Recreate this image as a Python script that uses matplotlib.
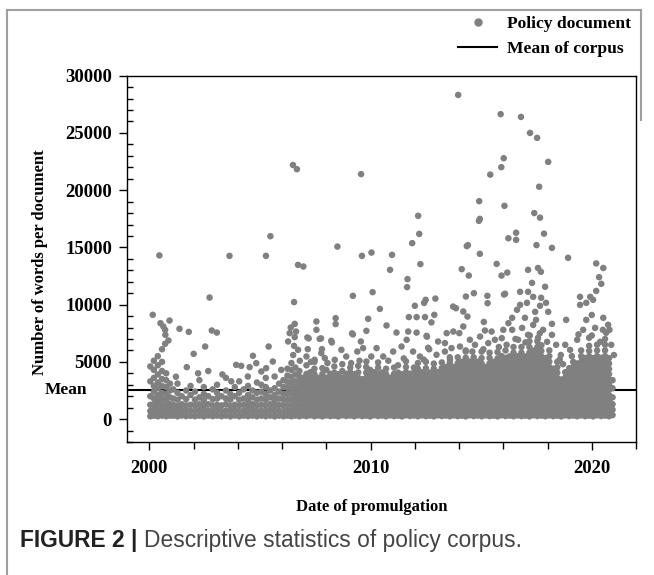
import matplotlib
matplotlib.use("Agg")
import matplotlib.pyplot as plt
from matplotlib.lines import Line2D
from matplotlib.ticker import MultipleLocator, FixedLocator
import matplotlib.transforms as mtransforms

plt.rcParams["font.family"] = "Liberation Serif"
plt.rcParams["font.weight"] = "bold"

MEAN_WORDS = 2500
DOT_COLOR = "#808080"

# ---- data ----
# dense bottom band, one entry per column of dots: (date, [words, ...])
band_2000_2006 = [
    (2000.04, [250, 700, 1250, 2000, 3300, 4600]),
    (2000.2, [300, 800, 1300, 1800, 2400, 2900, 3600, 4300, 5100]),
    (2000.38, [250, 650, 1100, 1600, 2100, 2700, 3200, 3900, 4700, 5500]),
    (2000.57, [300, 800, 1300, 1800, 2300, 2900, 3500, 4200, 5000, 6100]),
    (2000.76, [250, 700, 1200, 1700, 2200, 2800, 3400, 4000]),
    (2000.93, [300, 800, 1300, 1900, 2500, 3100]),
    (2001.08, [300, 760, 1250, 1800, 2600]),
    (2001.27, [240, 690, 1150, 1700, 2300, 3100]),
    (2001.46, [310, 800, 1300, 2000]),
    (2001.66, [260, 710, 1200, 1750, 2500]),
    (2001.86, [290, 750, 1250, 2100, 2900]),
    (2002.06, [250, 700, 1200, 1700, 2400]),
    (2002.26, [300, 800, 1300, 1900, 3400]),
    (2002.46, [240, 700, 1150, 1650, 2200, 2800]),
    (2002.66, [310, 760, 1300, 2000, 4200]),
    (2002.86, [260, 700, 1200, 1750, 2600]),
    (2003.06, [300, 800, 1250, 1800, 2300, 3000]),
    (2003.26, [250, 700, 1200, 2000]),
    (2003.46, [300, 750, 1300, 1800, 2500, 3600]),
    (2003.66, [240, 700, 1150, 1700, 2200]),
    (2003.86, [310, 800, 1250, 2000, 2800]),
    (2004.06, [250, 700, 1200, 1700, 2300, 3300]),
    (2004.26, [300, 750, 1250, 1800, 2600]),
    (2004.46, [260, 700, 1150, 1650, 2100, 2900]),
    (2004.66, [300, 800, 1300, 1900, 2500]),
    (2004.86, [250, 700, 1200, 1700, 2300, 3200]),
    (2005.06, [300, 750, 1250, 1800, 2400, 3000]),
    (2005.26, [250, 700, 1200, 1700, 2200, 2800, 3600]),
    (2005.46, [300, 800, 1300, 1900, 2500]),
    (2005.66, [240, 700, 1150, 1650, 2100, 2700]),
    (2005.86, [300, 750, 1250, 1800, 2400, 3100]),
    (2006.06, [250, 700, 1200, 1700, 2200, 2800, 3400]),
    (2006.24, [300, 750, 1250, 1750, 2250, 2750, 3250, 3800, 4400]),
    (2006.42, [250, 700, 1200, 1700, 2200, 2700, 3200, 3700, 4300, 4900]),
    (2006.6, [300, 800, 1300, 1800, 2300, 2800, 3300, 3900, 4500]),
    (2006.78, [250, 700, 1200, 1700, 2200, 2700, 3200, 3700, 4200]),
    (2006.94, [320, 780, 1250, 1720, 2180, 2650, 3100, 3600]),
]

band_2007_2013 = [
    (2007.1, [260, 720, 1180, 1640, 2100, 2560, 3020, 3480, 3950, 4700]),
    (2007.28, [330, 800, 1270, 1740, 2210, 2680, 3150, 3620, 4100]),
    (2007.46, [250, 710, 1170, 1630, 2090, 2550, 3010, 3470, 3940, 4400, 5000]),
    (2007.64, [310, 780, 1250, 1720, 2190, 2660, 3130, 3600]),
    (2007.82, [240, 700, 1160, 1620, 2080, 2540, 3000, 3460, 3930, 4450]),
    (2008.0, [320, 790, 1260, 1730, 2200, 2670, 3140, 3610, 4300]),
    (2008.18, [260, 720, 1180, 1640, 2100, 2560, 3020, 3480, 3950]),
    (2008.36, [300, 770, 1240, 1710, 2180, 2650, 3120, 3590, 4060, 4600]),
    (2008.54, [240, 700, 1160, 1620, 2080, 2540, 3000, 3460, 3920]),
    (2008.72, [330, 800, 1270, 1740, 2210, 2680, 3150, 3620, 4200, 4800]),
    (2008.9, [270, 730, 1190, 1650, 2110, 2570, 3030, 3490, 3960]),
    (2009.08, [310, 780, 1250, 1720, 2190, 2660, 3130, 3600, 4070, 4500]),
    (2009.26, [250, 710, 1170, 1630, 2090, 2550, 3010, 3470, 3930]),
    (2009.44, [320, 790, 1260, 1730, 2200, 2670, 3140, 3610, 4080, 4650]),
    (2009.62, [260, 720, 1180, 1640, 2100, 2560, 3020, 3480]),
    (2009.8, [300, 770, 1240, 1710, 2180, 2650, 3120, 3590, 4060, 4550]),
    (2009.98, [240, 700, 1160, 1620, 2080, 2540, 3000, 3460, 3920, 4300]),
    (2010.16, [330, 800, 1270, 1740, 2210, 2680, 3150, 3620, 4100]),
    (2010.34, [270, 730, 1190, 1650, 2110, 2570, 3030, 3490, 3960, 4500, 4950]),
    (2010.52, [310, 780, 1250, 1720, 2190, 2660, 3130, 3600, 4070]),
    (2010.7, [250, 710, 1170, 1630, 2090, 2550, 3010, 3470, 3930, 4400]),
    (2010.88, [320, 790, 1260, 1730, 2200, 2670, 3140, 3610]),
    (2011.06, [260, 720, 1180, 1640, 2100, 2560, 3020, 3480, 3950, 4500]),
    (2011.24, [300, 770, 1240, 1710, 2180, 2650, 3120, 3590, 4060, 4700]),
    (2011.42, [240, 700, 1160, 1620, 2080, 2540, 3000, 3460, 3920]),
    (2011.6, [330, 800, 1270, 1740, 2210, 2680, 3150, 3620, 4100, 4550, 5050]),
    (2011.78, [270, 730, 1190, 1650, 2110, 2570, 3030, 3490, 3960]),
    (2011.96, [310, 780, 1250, 1720, 2190, 2660, 3130, 3600, 4070, 4500]),
    (2012.14, [250, 710, 1170, 1630, 2090, 2550, 3010, 3470, 3930, 4400, 4900]),
    (2012.32, [320, 790, 1260, 1730, 2200, 2670, 3140, 3610, 4080]),
    (2012.5, [260, 720, 1180, 1640, 2100, 2560, 3020, 3480, 3950, 4450, 5000]),
    (2012.68, [300, 770, 1240, 1710, 2180, 2650, 3120, 3590, 4060]),
    (2012.86, [240, 700, 1160, 1620, 2080, 2540, 3000, 3460, 3920, 4400, 4850]),
    (2013.04, [330, 800, 1270, 1740, 2210, 2680, 3150, 3620, 4100]),
    (2013.22, [270, 730, 1190, 1650, 2110, 2570, 3030, 3490, 3960, 4450, 4950]),
    (2013.4, [310, 780, 1250, 1720, 2190, 2660, 3130, 3600, 4070, 4550]),
    (2013.58, [250, 710, 1170, 1630, 2090, 2550, 3010, 3470, 3930, 4400, 4900, 5400]),
    (2013.76, [320, 790, 1260, 1730, 2200, 2670, 3140, 3610, 4080, 4550]),
    (2013.94, [260, 720, 1180, 1640, 2100, 2560, 3020, 3480, 3950, 4420, 4900, 5400]),
]

band_2014_2021 = [
    (2014.12, [300, 770, 1240, 1710, 2180, 2650, 3120, 3590, 4060, 4530, 5000]),
    (2014.3, [240, 700, 1160, 1620, 2080, 2540, 3000, 3460, 3920, 4380, 4850, 5350, 5900]),
    (2014.48, [330, 800, 1270, 1740, 2210, 2680, 3150, 3620, 4090, 4560, 5030]),
    (2014.66, [270, 730, 1190, 1650, 2110, 2570, 3030, 3490, 3950, 4410, 4880, 5400]),
    (2014.84, [310, 780, 1250, 1720, 2190, 2660, 3130, 3600, 4070, 4540, 5010]),
    (2015.02, [250, 710, 1170, 1630, 2090, 2550, 3010, 3470, 3930, 4390, 4860, 5330, 5900]),
    (2015.2, [320, 790, 1260, 1730, 2200, 2670, 3140, 3610, 4080, 4550]),
    (2015.38, [260, 720, 1180, 1640, 2100, 2560, 3020, 3480, 3940, 4400, 4870, 5350, 5800]),
    (2015.56, [300, 770, 1240, 1710, 2180, 2650, 3120, 3590, 4060, 4530, 5000]),
    (2015.74, [240, 700, 1160, 1620, 2080, 2540, 3000, 3460, 3920, 4380, 4850, 5300, 5850]),
    (2015.92, [330, 800, 1270, 1740, 2210, 2680, 3150, 3620, 4090, 4560, 5030, 5500]),
    (2016.1, [270, 730, 1190, 1650, 2110, 2570, 3030, 3490, 3950, 4410, 4880, 5350, 6000]),
    (2016.28, [310, 780, 1250, 1720, 2190, 2660, 3130, 3600, 4070, 4540, 5010, 5480]),
    (2016.46, [250, 710, 1170, 1630, 2090, 2550, 3010, 3470, 3930, 4390, 4860, 5330, 5800, 6300]),
    (2016.64, [320, 790, 1260, 1730, 2200, 2670, 3140, 3610, 4080, 4550, 5020, 5490]),
    (2016.82, [260, 720, 1180, 1640, 2100, 2560, 3020, 3480, 3940, 4400, 4870, 5340, 5800, 6300]),
    (2017.0, [300, 770, 1240, 1710, 2180, 2650, 3120, 3590, 4060, 4530, 5000, 5470]),
    (2017.18, [240, 700, 1160, 1620, 2080, 2540, 3000, 3460, 3920, 4380, 4850, 5320, 5800, 6300, 6800]),
    (2017.36, [330, 800, 1270, 1740, 2210, 2680, 3150, 3620, 4090, 4560, 5030, 5500, 5980]),
    (2017.54, [270, 730, 1190, 1650, 2110, 2570, 3030, 3490, 3950, 4410, 4880, 5350, 5820, 6300, 6800]),
    (2017.72, [310, 780, 1250, 1720, 2190, 2660, 3130, 3600, 4070, 4540, 5010, 5480, 5960, 6450]),
    (2017.9, [250, 710, 1170, 1630, 2090, 2550, 3010, 3470, 3930, 4390, 4860, 5330]),
    (2018.08, [320, 790, 1260, 1730, 2200, 2670, 3140, 3610, 4080, 4550, 5020, 5500, 6000]),
    (2018.26, [260, 720, 1180, 1640, 2100, 2560, 3020, 3480, 3940, 4400]),
    (2018.44, [300, 770, 1240, 1710, 2180, 2650, 3120, 3590, 4060, 4530, 5000]),
    (2018.62, [240, 700, 1160, 1620, 2080, 2540, 3000, 3460]),
    (2018.8, [330, 800, 1270, 1740, 2210, 2680, 3150, 3620, 4100]),
    (2018.98, [270, 730, 1190, 1650, 2110, 2570, 3030, 3490, 3960, 4450]),
    (2019.16, [310, 780, 1250, 1720, 2190, 2660, 3130, 3600, 4070, 4540, 5000]),
    (2019.34, [250, 710, 1170, 1630, 2090, 2550, 3010, 3470, 3930, 4390, 4860]),
    (2019.52, [320, 790, 1260, 1730, 2200, 2670, 3140, 3610, 4080, 4550, 5020, 5500, 6000]),
    (2019.7, [260, 720, 1180, 1640, 2100, 2560, 3020, 3480, 3940, 4400, 4870, 5340]),
    (2019.88, [300, 770, 1240, 1710, 2180, 2650, 3120, 3590, 4060, 4530, 5000, 5470, 5950, 6400]),
    (2020.06, [240, 700, 1160, 1620, 2080, 2540, 3000, 3460, 3920, 4380, 4850, 5320]),
    (2020.24, [330, 800, 1270, 1740, 2210, 2680, 3150, 3620, 4090, 4560, 5030, 5500, 6000, 6500]),
    (2020.42, [270, 730, 1190, 1650, 2110, 2570, 3030, 3490, 3950, 4410, 4880, 5350]),
    (2020.6, [310, 780, 1250, 1720, 2190, 2660, 3130, 3600, 4070, 4540, 5010, 5500, 6000, 6500, 7000]),
    (2020.78, [250, 710, 1170, 1630, 2090, 2550, 3010, 3470, 3930, 4390, 4860, 5330]),
    (2020.94, [350, 820, 1300, 1900, 2700, 3400]),
]

# scattered documents above the band: (date, words)
scatter_mid = [
    (2001.69, 4540), (2004.53, 4540), (2004.83, 4890), (2005.06, 4160), (2004.45, 3720),
    (2005.28, 4450), (2005.66, 3720), (2005.96, 4300), (2003.92, 4740), (2005.58, 5030),
    (2004.68, 5530), (2004.15, 4650), (2005.39, 6340), (2003.3, 3900), (2002.2, 4000),
    (2001.2, 3700), (2003.7, 3300), (2002.0, 5700), (2002.52, 6340), (2000.71, 6580),
    (2000.86, 6870), (2000.72, 7360), (2000.71, 7800), (2001.36, 7890), (2001.78, 7620),
    (2002.82, 7740), (2003.05, 7560),
    (2006.39, 8000), (2006.63, 7650), (2006.34, 7510), (2006.57, 7160), (2006.27, 6780),
    (2006.54, 6400), (2006.72, 6050), (2007.55, 7800), (2007.14, 7130), (2007.2, 7050),
    (2007.70, 7010), (2007.76, 7050), (2008.22, 6840), (2008.25, 6700), (2007.80, 6110),
    (2007.16, 6110), (2009.16, 7490), (2009.2, 7400), (2009.81, 7710), (2009.56, 6780),
    (2008.68, 6050), (2009.4, 5900), (2009.66, 6200), (2009.12, 4890), (2008.38, 5180),
    (2007.1, 5470), (2007.47, 5180), (2007.93, 5330), (2008.9, 5470), (2009.81, 5030),
    (2010.03, 5470), (2007.77, 5760), (2006.5, 5600), (2006.8, 5100), (2007.3, 5000),
    (2008.05, 4900), (2009.5, 5100),
    (2011.17, 7560), (2011.70, 7650), (2012.08, 7560), (2011.63, 6930), (2012.53, 7270),
    (2012.55, 7200), (2013.05, 6780), (2013.36, 6640), (2013.44, 7510), (2013.74, 7650),
    (2014.01, 7510), (2012.6, 6230), (2012.65, 6100), (2013.59, 5180), (2010.27, 6200),
    (2010.57, 5470), (2011.02, 5900), (2011.4, 6340), (2011.92, 5900), (2012.23, 5470),
    (2012.98, 5620), (2013.36, 5900), (2013.66, 6200), (2010.8, 5100), (2011.5, 5300),
    (2012.4, 5200),
    (2015.17, 7740), (2015.47, 7650), (2015.62, 6930), (2014.04, 6340), (2014.49, 6930),
    (2014.72, 6490), (2014.95, 7210), (2015.32, 6640), (2015.93, 7070), (2016.15, 6490),
    (2016.0, 7800), (2014.3, 6000), (2014.6, 5900), (2015.1, 6100), (2015.8, 6300),
    (2016.4, 7800), (2016.67, 6930), (2016.85, 7970), (2017.12, 7360), (2017.35, 8230),
    (2017.57, 7100), (2017.8, 7800), (2017.98, 6750), (2018.2, 7360), (2018.39, 6490),
    (2017.2, 7300), (2016.55, 7000), (2017.0, 6700), (2017.65, 7500), (2019.34, 6930),
    (2019.61, 7800), (2019.88, 7100), (2020.15, 7970), (2020.38, 6750), (2020.65, 7540),
    (2020.88, 6490), (2021.0, 5600), (2019.02, 6050), (2018.8, 6490), (2018.55, 5200),
    (2018.7, 4800), (2019.1, 5500), (2019.4, 7400), (2020.0, 7300), (2020.5, 7800),
    (2020.8, 7800), (2018.6, 5600),
]

scatter_high = [
    (2000.15, 9110), (2000.50, 8380), (2000.63, 8090), (2000.91, 8610), (2000.45, 14300),
    (2002.72, 10620), (2003.62, 14260), (2005.27, 14260), (2005.47, 15980),
    (2006.49, 22200), (2006.67, 21830), (2006.72, 13470), (2006.96, 13330), (2006.54, 10220),
    (2006.57, 8320), (2007.55, 8530), (2008.42, 8820), (2008.42, 8300),
    (2008.50, 15070), (2009.20, 10770), (2009.57, 21400), (2009.61, 14260), (2009.89, 8760),
    (2010.04, 14550), (2010.09, 11090), (2010.42, 9630), (2010.72, 8180), (2010.88, 13040),
    (2010.97, 14350), (2011.65, 11530), (2011.67, 12230), (2011.73, 8910), (2011.88, 15370),
    (2012.0, 9900), (2012.08, 8910), (2012.15, 17760), (2012.20, 16180), (2012.25, 13540),
    (2012.42, 10150), (2012.46, 8910), (2012.49, 10420), (2012.75, 8450), (2012.88, 9110),
    (2012.93, 10530), (2013.73, 9830), (2013.86, 9690), (2013.96, 28320),
    (2014.12, 13100), (2014.19, 9400), (2014.19, 8090), (2014.31, 10710), (2014.35, 15110),
    (2014.40, 15200), (2014.38, 8960), (2014.44, 12540), (2014.67, 11000), (2014.90, 17320),
    (2014.94, 17490), (2014.91, 19040), (2014.94, 14440), (2015.12, 8490), (2015.28, 10770),
    (2015.29, 10130), (2015.41, 21360), (2015.70, 13560), (2015.88, 26640), (2015.91, 22010),
    (2015.92, 12540), (2016.02, 22790), (2016.03, 10890), (2016.08, 10950), (2016.05, 18630),
    (2016.18, 12800), (2016.23, 15800), (2016.23, 8380),
    (2016.8, 26400), (2017.21, 25000), (2017.53, 24570), (2018.03, 22470), (2017.62, 20300),
    (2017.4, 18000), (2017.66, 17600), (2016.58, 16280), (2016.58, 15660), (2017.84, 16200),
    (2018.2, 14960), (2018.93, 14090), (2017.5, 15200), (2017.57, 13200), (2017.12, 13040),
    (2017.7, 12870), (2020.2, 13600), (2020.52, 13200), (2020.33, 12400), (2020.43, 11820),
    (2020.2, 11200), (2019.93, 10680), (2019.47, 10680), (2019.75, 10160), (2019.47, 9980),
    (2020.06, 10420), (2020.52, 8850), (2017.3, 11900), (2017.89, 11560), (2016.76, 11120),
    (2017.35, 10680), (2017.07, 10160), (2017.66, 9900), (2016.62, 9550), (2018.03, 9370),
    (2016.4, 8850), (2016.98, 8850), (2017.48, 8670), (2018.2, 8320), (2018.84, 8670),
    (2020.74, 8240), (2017.12, 11120), (2017.71, 10600), (2017.93, 10160), (2017.44, 9370),
    (2016.76, 9980), (2019.75, 8670), (2020.0, 9100),
]

# flatten everything into x / y
dates, words = [], []
for band in (band_2000_2006, band_2007_2013, band_2014_2021):
    for d, ws in band:
        for w in ws:
            dates.append(d)
            words.append(w)
for d, w in scatter_mid + scatter_high:
    dates.append(d)
    words.append(w)

# ---- figure ----
W, H = 654, 575
fig = plt.figure(figsize=(W / 100, H / 100), dpi=100)
ax = fig.add_axes([127.3 / W, 1 - 442 / H, (636 - 127.3) / W, (442 - 75.7) / H])

ax.axhline(MEAN_WORDS, color="black", lw=1.5, zorder=1)
ax.scatter(dates, words, s=22, color=DOT_COLOR, edgecolors="none", zorder=2)

ax.set_xlim(1999, 2022)
ax.set_ylim(-2000, 30000)

ax.xaxis.set_major_locator(FixedLocator([2000, 2010, 2020]))
ax.xaxis.set_minor_locator(MultipleLocator(2))
ax.yaxis.set_major_locator(MultipleLocator(5000))
ax.yaxis.set_minor_locator(MultipleLocator(1000))

ax.tick_params(axis="x", which="major", direction="out", length=6, width=1, pad=7, labelsize=13.5)
ax.tick_params(axis="x", which="minor", direction="out", length=5, width=1)
ax.tick_params(axis="y", which="major", direction="out", length=6, width=1, pad=5, labelsize=13.5)
ax.tick_params(axis="y", which="minor", direction="in", length=4, width=1)
for sp in ax.spines.values():
    sp.set_linewidth(1.0)

ax.set_yticklabels([f"{int(v)}" if v >= 0 else "" for v in ax.get_yticks()])

trans = mtransforms.blended_transform_factory(ax.transAxes, ax.transData)
ax.text(-0.079, MEAN_WORDS, "Mean", transform=trans, ha="right", va="center",
        fontsize=12.5, fontweight="bold")

fig.text(40 / W, 1 - 262 / H, "Number of words per document", rotation=90,
         ha="center", va="center", fontsize=12, fontweight="bold")
fig.text(372 / W, 1 - 507 / H, "Date of promulgation", ha="center", va="center",
         fontsize=12, fontweight="bold")

handles = [
    Line2D([], [], marker="o", linestyle="none", color=DOT_COLOR, markersize=5),
    Line2D([], [], color="black", lw=1.5),
]
fig.legend(handles, ["Policy document", "Mean of corpus"], loc="upper right",
           bbox_to_anchor=(647 / W, 1.0), frameon=False, fontsize=12.6,
           handlelength=2.2, handletextpad=0.6, labelspacing=0.52)

# frame around the whole figure
border = "#a0a0a0"
fig.add_artist(Line2D([7 / W, 7 / W], [0, 1 - 10 / H], color=border, lw=1.5))
fig.add_artist(Line2D([7 / W, 641 / W], [1 - 10 / H, 1 - 10 / H], color=border, lw=1.5))
fig.add_artist(Line2D([641 / W, 641 / W], [1 - 10 / H, 1 - 120 / H], color=border, lw=1.5))

# caption: bold label then regular text
cap_y = 1 - 541 / H
t1 = fig.text(20 / W, cap_y, "FIGURE 2 | ", family="Liberation Sans", fontweight="bold",
              fontsize=16.4, color="#222222", va="center")
fig.canvas.draw()
bb = t1.get_window_extent(fig.canvas.get_renderer())
fig.text(bb.x1 / W, cap_y, "Descriptive statistics of policy corpus.", family="Liberation Sans",
         fontweight="normal", fontsize=16.4, color="#444444", va="center")

fig.savefig("out.png", dpi=100)
